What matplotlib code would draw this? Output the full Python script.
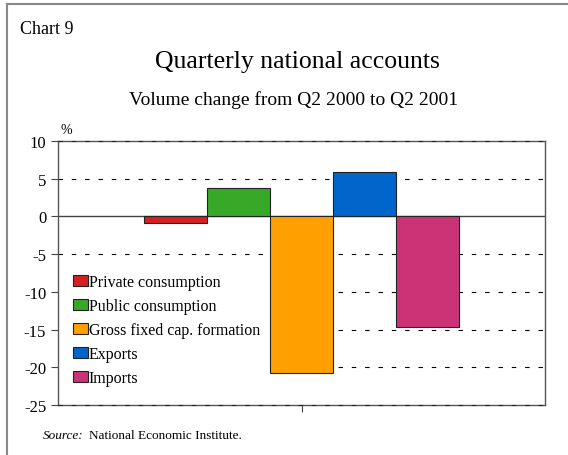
import numpy as np
import matplotlib.pyplot as plt
from matplotlib.lines import Line2D
from matplotlib.patches import Rectangle

plt.rcParams["font.family"] = ["Liberation Serif", "DejaVu Serif"]

# データ
categories = ["Private consumption", "Public consumption",
              "Gross fixed cap. formation", "Exports", "Imports"]
values = [-0.9, 3.8, -20.8, 5.9, -14.7]
bar_colors = ["#d42020", "#38a828", "#ffa000", "#0066cc", "#cc3377"]
yticks = [10, 5, 0, -5, -10, -15, -20, -25]

fig = plt.figure(figsize=(5.68, 4.56), dpi=100)

# 外枠（左と上）
fig.add_artist(Line2D([7/568, 7/568], [0, 1 - 5/456], color="#888888", lw=1.5))
fig.add_artist(Line2D([7/568, 1], [1 - 5/456, 1 - 5/456], color="#888888", lw=1.5))

ax = fig.add_axes([58/568, 1 - 406/456, 487/568, 264/456])

x = np.arange(len(values)) - 2
ax.bar(x, values, width=1.0, color=bar_colors, edgecolor="#222222",
       linewidth=0.8, zorder=3)

ax.set_xlim(-3.865, 3.865)
ax.set_ylim(-25, 10)
ax.set_yticks(yticks)
ax.set_yticklabels([str(v) for v in yticks], fontsize=12)
ax.set_xticks([0])
ax.set_xticklabels([""])
ax.tick_params(axis="both", direction="out", length=5, width=0.8, color="#444444")

for s in ax.spines.values():
    s.set_color("#555555")
    s.set_linewidth(1.0)

# 目盛り線
for v in yticks:
    if v == 0:
        ax.axhline(0, color="#444444", lw=1.0, zorder=2)
    elif v in (10, -25):
        ax.axhline(v, color="#222222", lw=0.8, linestyle=(0, (4, 8)), zorder=2.6,
                   clip_on=False)
    else:
        ax.axhline(v, color="black", lw=0.8, linestyle=(0, (4, 8)), zorder=1)

# 凡例の白い背景（グリッドを隠す）— GFCFの棒の左端まで
x_left = -3.865
x_right = x[2] - 0.5
ax.add_patch(Rectangle((x_left, -24.6), x_right - x_left, 24.6 - 6.6,
                       facecolor="white", edgecolor="none", zorder=1.5))

handles = [Rectangle((0, 0), 1, 1, facecolor=c, edgecolor="#222222", linewidth=0.8)
           for c in bar_colors]
leg = ax.legend(handles, categories, loc="upper left", bbox_to_anchor=(0.0177, 0.52),
                frameon=False, fontsize=11.5, handlelength=0.94, handleheight=0.7,
                handletextpad=0.05, labelspacing=0.5, borderaxespad=0)
leg.set_zorder(2.5)

ax.text(0.005, 1.02, "%", transform=ax.transAxes, fontsize=10, ha="left", va="bottom")

fig.text(20/568, 1 - 30/456, "Chart 9", fontsize=13, ha="left", va="center")
fig.text(297/568, 1 - 62/456, "Quarterly national accounts", fontsize=18.5,
         ha="center", va="center")
fig.text(294/568, 1 - 100/456, "Volume change from Q2 2000 to Q2 2001", fontsize=14,
         ha="center", va="center")
fig.text(43/568, 1 - 436/456, "Source:", fontsize=9.5, ha="left", va="center",
         style="italic")
fig.text(89/568, 1 - 436/456, "National Economic Institute.", fontsize=9.5,
         ha="left", va="center")

fig.savefig("out.png", dpi=100)
